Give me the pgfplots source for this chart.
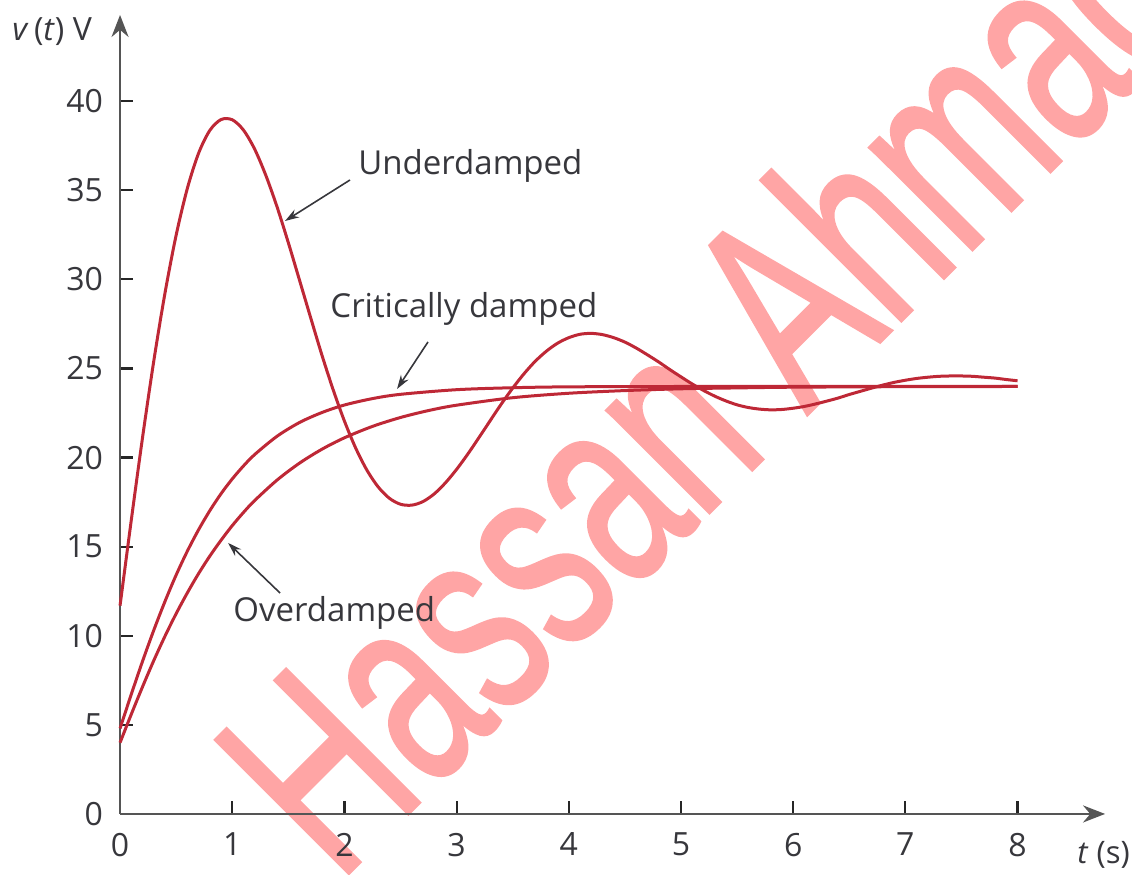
\documentclass[border=0pt]{standalone}
\usepackage{fontspec}
\setmainfont{Open Sans}
\newfontfamily\wmfont[FakeBold=1.2]{Liberation Sans}
\usepackage{pgfplots}
\pgfplotsset{compat=1.18}
\usetikzlibrary{arrows.meta}
\definecolor{curve}{RGB}{190,40,54}
\definecolor{txt}{RGB}{55,55,60}
\definecolor{axisgray}{RGB}{85,85,85}
\definecolor{wm}{RGB}{255,165,165}
\begin{document}
\begin{tikzpicture}
% watermark (axis origin sits at (0,0); 1 unit x = 56.1pt, 1 unit y = 8.91pt)
\node[anchor=base west, rotate=45, inner sep=0pt, text=wm,
      font=\wmfont\fontsize{137}{137}\selectfont] at (108.8pt,-35.2pt) {\scalebox{0.66}[1]{Hassan Ahmad}};
\begin{axis}[
  at={(0pt,0pt)}, anchor=origin,
  x=56.1pt, y=8.91pt,
  axis lines=left,
  xmin=0, xmax=8.78, ymin=0, ymax=44.84,
  enlargelimits=false,
  axis line style={line width=1.3pt, draw=axisgray, -{Stealth[length=11pt,width=8.5pt]}},
  xtick={0,1,...,8}, ytick={0,5,...,40},
  tick align=inside,
  major tick length=6.5pt,
  tick style={line width=1.1pt, black!85},
  ticklabel style={font=\fontsize{16}{19}\selectfont, text=txt},
  /pgf/number format/assume math mode=true,
  xticklabel style={yshift=-6pt},
  yticklabel style={xshift=-5pt},
  clip=false,
]
% Underdamped
\addplot[curve, line width=1.5pt, smooth] coordinates {
(0,11.69) (0.1,16.48) (0.2,21.10) (0.3,25.39) (0.4,29.21) (0.5,32.48) (0.6,35.11) (0.7,37.08) (0.8,38.36) (0.9,38.97)
(1.0,38.96) (1.1,38.38) (1.2,37.31) (1.3,35.83) (1.4,34.06) (1.5,32.06) (1.6,29.95) (1.7,27.83) (1.8,25.74) (1.9,23.80)
(2.0,22.05) (2.1,20.54) (2.2,19.30) (2.3,18.36) (2.4,17.72) (2.5,17.38) (2.6,17.33) (2.7,17.53) (2.8,17.96) (2.9,18.58)
(3.0,19.34) (3.1,20.20) (3.2,21.13) (3.3,22.08) (3.4,23.02) (3.5,23.90) (3.6,24.70) (3.7,25.40) (3.8,25.97) (3.9,26.42)
(4.0,26.73) (4.1,26.92) (4.2,26.97) (4.3,26.90) (4.4,26.73) (4.5,26.48) (4.6,26.15) (4.7,25.77) (4.8,25.37) (4.9,24.94)
(5.0,24.53) (5.1,24.13) (5.2,23.77) (5.3,23.45) (5.4,23.18) (5.5,22.96) (5.6,22.81) (5.7,22.72) (5.8,22.68) (5.9,22.70)
(6.0,22.77) (6.1,22.87) (6.2,23.01) (6.3,23.17) (6.4,23.34) (6.5,23.54) (6.6,23.72) (6.7,23.90) (6.8,24.07) (6.9,24.22)
(7.0,24.34) (7.1,24.44) (7.2,24.51) (7.3,24.56) (7.4,24.58) (7.5,24.58) (7.6,24.56) (7.7,24.51) (7.8,24.46) (7.9,24.38)
(8.0,24.31)
};
% Critically damped
\addplot[curve, line width=1.5pt, smooth] coordinates {
(0,4.80) (0.1,6.71) (0.2,8.56) (0.3,10.30) (0.4,11.92) (0.5,13.41) (0.6,14.75) (0.7,15.95) (0.8,17.02) (0.9,17.97)
(1.0,18.80) (1.1,19.53) (1.2,20.17) (1.4,21.20) (1.6,21.97) (1.8,22.53) (2.0,22.95) (2.25,23.31) (2.5,23.55)
(3.0,23.81) (3.5,23.92) (4.0,23.97) (5.0,23.99) (6.0,24.00) (8.0,24.00)
};
% Overdamped
\addplot[curve, line width=1.5pt, smooth] coordinates {
(0,4.00) (0.1,5.59) (0.2,7.13) (0.3,8.60) (0.4,9.97) (0.5,11.24) (0.6,12.41) (0.7,13.49) (0.8,14.47) (0.9,15.36)
(1.0,16.18) (1.1,16.92) (1.2,17.59) (1.4,18.74) (1.6,19.69) (1.8,20.47) (2.0,21.11) (2.25,21.75) (2.5,22.25)
(2.75,22.64) (3.0,22.94) (3.5,23.36) (4.0,23.61) (4.5,23.76) (5.0,23.86) (5.5,23.91) (6.0,23.95) (7.0,23.98) (8.0,23.99)
};
% Labels and arrows
\node[anchor=west, inner sep=0pt, font=\fontsize{16.5}{19}\selectfont, text=txt] at (axis cs:2.121,36.36) {Underdamped};
\draw[line width=0.8pt, txt, -{Stealth[length=7pt,width=4.5pt]}] (axis cs:2.050,35.58) -- (axis cs:1.471,33.28);
\node[anchor=west, inner sep=0pt, font=\fontsize{16.5}{19}\selectfont, text=txt] at (axis cs:1.872,28.34) {Critically damped};
\draw[line width=0.8pt, txt, -{Stealth[length=7pt,width=4.5pt]}] (axis cs:2.745,26.49) -- (axis cs:2.469,23.85);
\node[anchor=west, inner sep=0pt, font=\fontsize{16.5}{19}\selectfont, text=txt] at (axis cs:1.007,11.28) {Overdamped};
\draw[line width=0.8pt, txt, -{Stealth[length=7pt,width=4.5pt]}] (axis cs:1.426,12.40) -- (axis cs:0.963,15.21);
\node[anchor=west, font=\fontsize{16}{19}\selectfont, text=txt, inner sep=0pt] at (axis cs:-0.963,43.88) {\textit{v}\,(\textit{t}) V};
\node[anchor=west, font=\fontsize{15.5}{18}\selectfont, text=txt, inner sep=0pt] at (axis cs:8.53,-2.30) {\textit{t} (s)};
% bounding box corners
\coordinate (bl) at (axis cs:-1.07,-3.37);
\coordinate (tr) at (axis cs:9.02,45.68);
\end{axis}
\pgfresetboundingbox
\path[use as bounding box] (bl) rectangle (tr);
\end{tikzpicture}
\end{document}
